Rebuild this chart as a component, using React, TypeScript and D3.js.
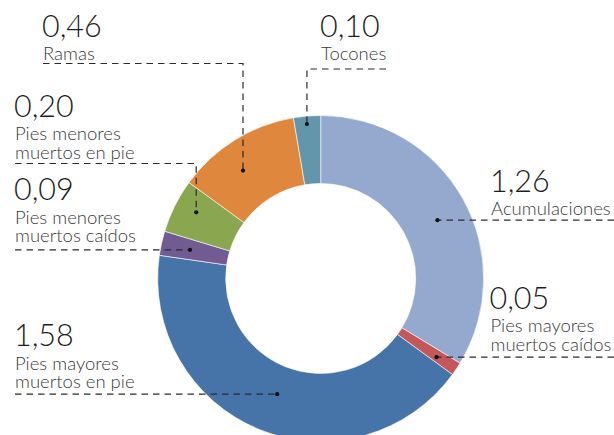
import React from "react";
import * as d3 from "d3";

const categories = [
  "Acumulaciones",
  "Pies mayores muertos caídos",
  "Pies mayores muertos en pie",
  "Pies menores muertos caídos",
  "Pies menores muertos en pie",
  "Ramas",
  "Tocones",
];
const values = [1.26, 0.05, 1.58, 0.09, 0.2, 0.46, 0.1];
const valueLabels = ["1,26", "0,05", "1,58", "0,09", "0,20", "0,46", "0,10"];
const labelLines = [
  ["Acumulaciones"],
  ["Pies mayores", "muertos caídos"],
  ["Pies mayores", "muertos en pie"],
  ["Pies menores", "muertos caídos"],
  ["Pies menores", "muertos en pie"],
  ["Ramas"],
  ["Tocones"],
];
const colors = ["#95A9CF", "#C4575A", "#4674A8", "#725A92", "#8AA64F", "#DE873D", "#6395AB"];

// annotation layout: t = position along slice angle, r = radius of dot,
// tx/ty = anchor of value text, kind = leader line shape
type Layout = {
  t: number;
  r: number;
  tx: number;
  ty: number;
  kind: "h" | "v";
  lx: number;
  ly?: number;
};
const layout: Layout[] = [
  { t: 0.523, r: 130.5, tx: 490, ty: 191.5, kind: "h", lx: 614 },
  { t: 0.6, r: 140, tx: 489.5, ty: 308.5, kind: "h", lx: 614 },
  { t: 0.49, r: 123.6, tx: 14, ty: 346, kind: "h", lx: 15 },
  { t: 0.48, r: 133.8, tx: 14, ty: 200, kind: "h", lx: 15 },
  { t: 0.58, r: 141, tx: 14, ty: 116.5, kind: "v", lx: 15, ly: 163.5 },
  { t: 0.41, r: 133, tx: 42, ty: 36.5, kind: "v", lx: 43, ly: 63.5 },
  { t: 0.47, r: 155, tx: 320, ty: 36.5, kind: "v", lx: 386, ly: 69 },
];

const W = 614;
const H = 435;
const cx = 320.7;
const cy = 278.5;
const outerR = 163;
const innerR = 95;

export default function App() {
  const pie = d3.pie<number>().sort(null).value((d) => d)(values);
  const arc = d3.arc<d3.PieArcDatum<number>>().innerRadius(innerR).outerRadius(outerR);
  const font = "Lato, 'Open Sans', sans-serif";

  return (
    <svg
      width={W}
      height={H}
      style={{ position: "absolute", left: 0, top: 0, background: "#fff" }}
    >
      <g transform={`translate(${cx},${cy})`}>
        {pie.map((p, i) => (
          <path key={i} d={arc(p) || ""} fill={colors[i]} stroke="#fff" strokeWidth={0.6}>
            <title>{categories[i]}</title>
          </path>
        ))}
      </g>
      {pie.map((p, i) => {
        const L = layout[i];
        const ang = p.startAngle + L.t * (p.endAngle - p.startAngle);
        const [px, py] = d3.pointRadial(ang, L.r);
        const dx = cx + px;
        const dy = cy + py;
        const pts: [number, number][] =
          L.kind === "h"
            ? [
                [L.lx, dy],
                [dx, dy],
              ]
            : [
                [L.lx, L.ly!],
                [dx, L.ly!],
                [dx, dy],
              ];
        const line = d3.line()(pts) || "";
        return (
          <g key={"a" + i}>
            <path d={line} fill="none" stroke="#2b2b2b" strokeWidth={1.2} strokeDasharray="6.5,5" />
            <circle cx={dx} cy={dy} r={2.1} fill="#111" />
            <text
              x={L.tx}
              y={L.ty}
              fontFamily={font}
              fontWeight={300}
              fontSize={30.5}
              fill="#1e1e1e"
            >
              {valueLabels[i]}
            </text>
            <text fontFamily={font} fontWeight={300} fontSize={18.5} fill="#3a3a3a">
              {labelLines[i].map((s, j) => (
                <tspan key={j} x={L.tx + 1} y={L.ty + 23.5 + j * 18.7}>
                  {s}
                </tspan>
              ))}
            </text>
          </g>
        );
      })}
    </svg>
  );
}
